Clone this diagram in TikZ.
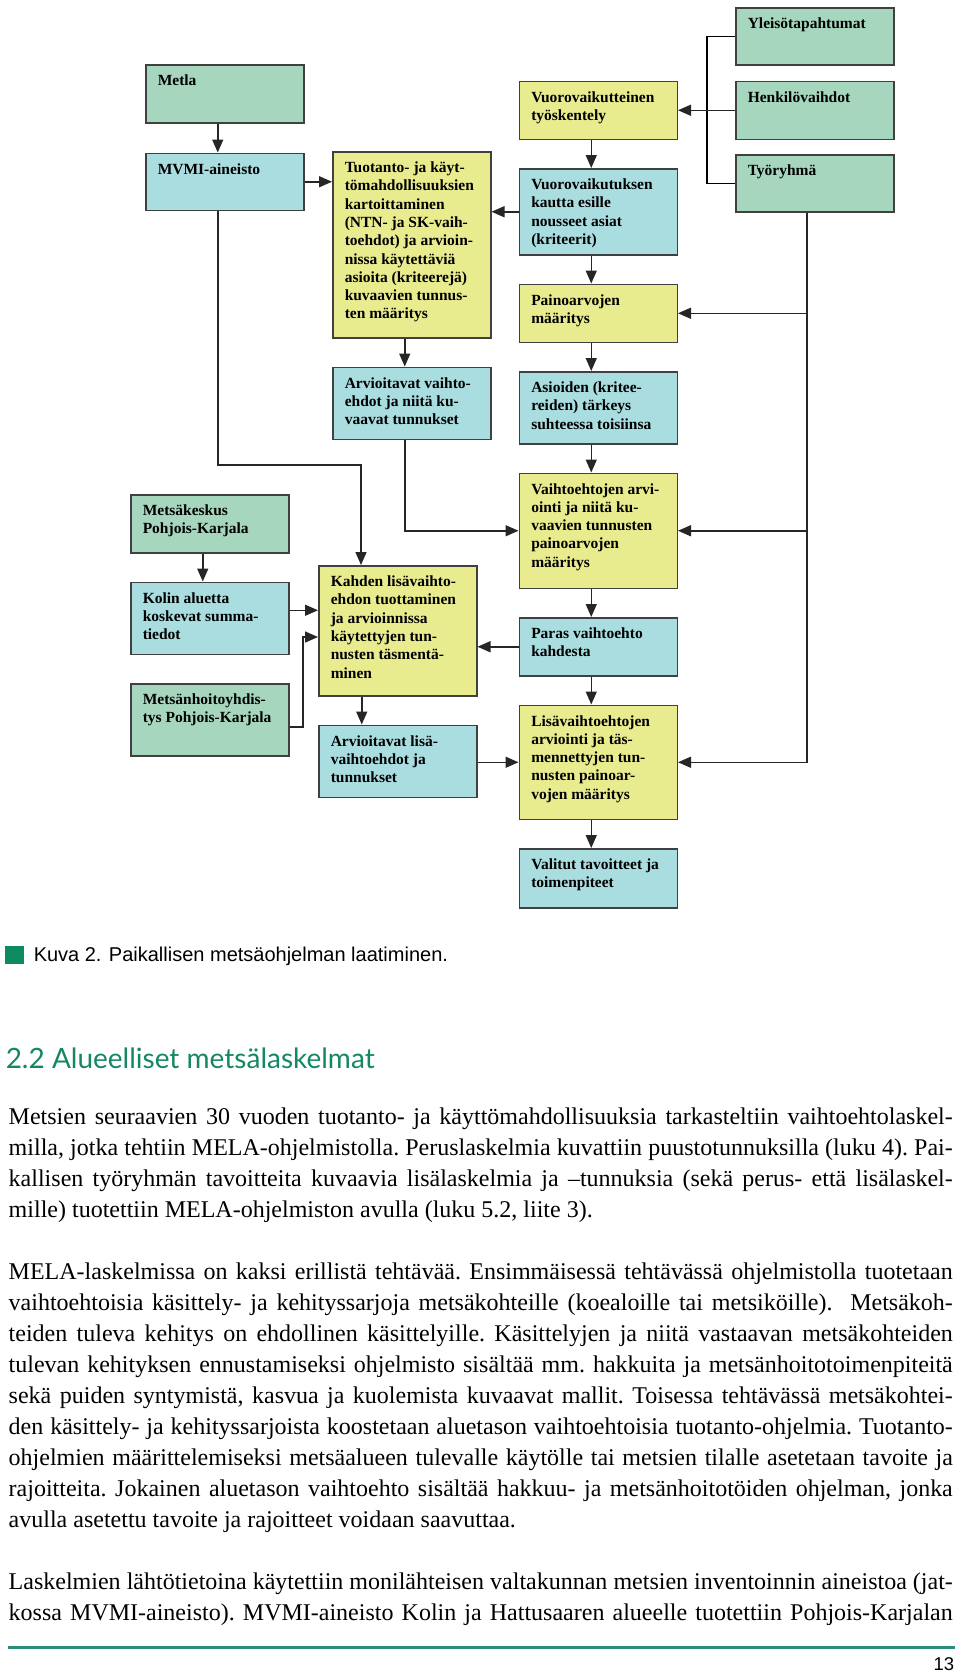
\documentclass[tikz,border=0pt]{standalone}
\usepackage{fontspec}
\setmainfont{Liberation Serif}
\newfontfamily\capfont{Liberation Sans}
\newfontfamily\headfont{Lato}
\usepackage{tikz}
\usetikzlibrary{arrows.meta}
\usetikzlibrary{positioning}
\definecolor{boxgreen}{HTML}{A6D7BE}
\definecolor{boxcyan}{HTML}{AADDE0}
\definecolor{boxyellow}{HTML}{E8EC8F}
\definecolor{figgreen}{HTML}{0E8A60}
\definecolor{headgreen}{HTML}{148764}
\definecolor{rulegreen}{HTML}{2A8C7D}
\newcommand{\bx}[2]{\parbox[c][#1][t]{134pt}{\raggedright\strut #2}}
\newcommand{\fullline}[1]{\makebox[944pt][s]{#1}}

\begin{document}
\begin{tikzpicture}[x=1pt,y=-1pt,node distance=28pt,line width=1.5pt,>={Triangle[length=13pt,width=11pt]}]
	\tikzstyle{box}=[rectangle,draw=black!75,inner xsep=12pt,inner ysep=8pt,font=\fontsize{15.5}{18.3}\selectfont\bfseries]
	\tikzstyle{grn}=[box,fill=boxgreen]
	\tikzstyle{cyn}=[box,fill=boxcyan]
	\tikzstyle{ylw}=[box,fill=boxyellow]
	\tikzstyle{arr}=[->,draw=black!85]
	\useasboundingbox (0,0) rectangle (960,1674);

	% oikea sarake
	\node[grn,anchor=north west] (yleiso) at (735,7) {\bx{41pt}{Yleisötapahtumat}};
	\node[grn] (henk) [below=15pt of yleiso] {\bx{42pt}{Henkilövaihdot}};
	\node[grn] (tyor) [below=14pt of henk] {\bx{41pt}{Työryhmä}};

	% keskisarake
	\node[ylw] (vuor) [left=57pt of henk] {\bx{42pt}{Vuorovaikutteinen\\ työskentely}};
	\node[cyn] (vkaut) [below=of vuor] {\bx{70pt}{Vuorovaikutuksen\\ kautta esille\\ nousseet asiat\\ (kriteerit)}};
	\node[ylw] (paino) [below=of vkaut] {\bx{42pt}{Painoarvojen\\ määritys}};
	\node[cyn] (asiat) [below=of paino] {\bx{56pt}{Asioiden (kritee-\\ reiden) tärkeys\\ suhteessa toisiinsa}};
	\node[ylw] (varv) [below=of asiat] {\bx{99pt}{Vaihtoehtojen arvi-\\ ointi ja niitä ku-\\ vaavien tunnusten\\ painoarvojen\\ määritys}};
	\node[cyn] (paras) [below=of varv] {\bx{42pt}{Paras vaihtoehto\\ kahdesta}};
	\node[ylw] (lisa) [below=of paras] {\bx{98pt}{Lisävaihtoehtojen\\ arviointi ja täs-\\ mennettyjen tun-\\ nusten painoar-\\ vojen määritys}};
	\node[cyn] (valit) [below=of lisa] {\bx{43pt}{Valitut tavoitteet ja\\ toimenpiteet}};

	% vasen yläosa
	\node[grn,anchor=north west] (metla) at (145,64) {\bx{42pt}{Metla}};
	\node[cyn] (mvmi) [below=29pt of metla] {\bx{41pt}{MVMI-aineisto}};
	\node[ylw,anchor=north west] (tuot) at (332,151) {\bx{170pt}{Tuotanto- ja käyt-\\ tömahdollisuuksien\\ kartoittaminen\\ (NTN- ja SK-vaih-\\ toehdot) ja arvioin-\\ nissa käytettäviä\\ asioita (kriteerejä)\\ kuvaavien tunnus-\\ ten määritys}};
	\node[cyn] (arv1) [below=of tuot] {\bx{56pt}{Arvioitavat vaihto-\\ ehdot ja niitä ku-\\ vaavat tunnukset}};

	% vasen alaosa
	\node[grn,anchor=north west] (mkesk) at (130,494) {\bx{42pt}{Metsäkeskus\\ Pohjois-Karjala}};
	\node[cyn] (kolin) [below=of mkesk] {\bx{56pt}{Kolin aluetta\\ koskevat summa-\\ tiedot}};
	\node[grn] (mhy) [below=of kolin] {\bx{56pt}{Metsänhoitoyhdis-\\ tys Pohjois-Karjala}};
	\node[ylw,anchor=north west] (kahden) at (318,565) {\bx{114pt}{Kahden lisävaihto-\\ ehdon tuottaminen\\ ja arvioinnissa\\ käytettyjen tun-\\ nusten täsmentä-\\ minen}};
	\node[cyn] (arv2) [below=of kahden] {\bx{56pt}{Arvioitavat lisä-\\ vaihtoehdot ja\\ tunnukset}};

	\coordinate (brk) at ([xshift=-28pt]henk.west);
	\coordinate (ty) at ([xshift=-8pt]tyor.south);
	\coordinate (mk) at (361,465);
	\coordinate (mj) at (303,637);

	\foreach \a/\b in {metla/mvmi,tuot/arv1,vuor/vkaut,vkaut/paino,paino/asiat,asiat/varv,varv/paras,paras/lisa,lisa/valit,mkesk/kolin}{
		\draw[arr] ([xshift=-7pt]\a.south) -- ([xshift=-7pt]\b.north);
	}
	\draw (yleiso.west) -| (brk) |- (tyor.west);
	\draw[arr] (henk.west) -- (vuor.east);
	\draw[arr] (ty) |- (lisa.east);
	\draw[arr] (ty |- paino.east) -- (paino.east);
	\draw[arr] (ty |- varv.east) -- (varv.east);
	\draw[arr] (mvmi.east) -- (mvmi.east -| tuot.west);
	\draw[arr] (vkaut.west) -- (vkaut.west -| tuot.east);
	\draw[arr] ([xshift=-7pt]arv1.south) |- (varv.west);
	\draw[arr] ([xshift=-7pt]mvmi.south) |- (mk) -- (mk |- kahden.north);
	\draw[arr] ([yshift=8pt]kolin.east) -- ([yshift=8pt]kolin.east -| kahden.west);
	\draw[arr] ([yshift=-7pt]mhy.east) -| (mj) -- (mj -| kahden.west);
	\draw[arr] (paras.west) -- (paras.west -| kahden.east);
	\draw[arr] ([xshift=-36pt]kahden.south) -- ([xshift=-36pt]arv2.north);
	\draw[arr] (arv2.east |- lisa.west) -- (lisa.west);

	% kuvateksti ja leipäteksti
	\fill[figgreen] (5,946) rectangle (24,964);
	\node[anchor=base west,inner sep=0pt,font=\capfont\fontsize{20}{24}\selectfont] (kuva) at (33,961) {Kuva 2. Paikallisen metsäohjelman laatiminen.};
	\node[anchor=base west,inner sep=0pt,text=headgreen,font=\headfont\fontsize{28}{34}\selectfont] (otsikko) at (5,1068) {2.2 Alueelliset metsälaskelmat};
	\node[anchor=base west,inner sep=0pt,font=\fontsize{24}{31}\selectfont] (teksti) at (8,1124) {\parbox[t]{944pt}{\frenchspacing
		\fullline{Metsien seuraavien 30 vuoden tuotanto- ja käyttömahdollisuuksia tarkasteltiin vaihtoehtolaskel-}\\
		\fullline{milla, jotka tehtiin MELA-ohjelmistolla. Peruslaskelmia kuvattiin puustotunnuksilla (luku 4). Pai-}\\
		\fullline{kallisen työryhmän tavoitteita kuvaavia lisälaskelmia ja –tunnuksia (sekä perus- että lisälaskel-}\\
		mille) tuotettiin MELA-ohjelmiston avulla (luku 5.2, liite 3).\\[31pt]
		\fullline{MELA-laskelmissa on kaksi erillistä tehtävää. Ensimmäisessä tehtävässä ohjelmistolla tuotetaan}\\
		\fullline{vaihtoehtoisia käsittely- ja kehityssarjoja metsäkohteille (koealoille tai metsiköille).\ \ Metsäkoh-}\\
		\fullline{teiden tuleva kehitys on ehdollinen käsittelyille. Käsittelyjen ja niitä vastaavan metsäkohteiden}\\
		\fullline{tulevan kehityksen ennustamiseksi ohjelmisto sisältää mm. hakkuita ja metsänhoitotoimenpiteitä}\\
		\fullline{sekä puiden syntymistä, kasvua ja kuolemista kuvaavat mallit. Toisessa tehtävässä metsäkohtei-}\\
		\fullline{den käsittely- ja kehityssarjoista koostetaan aluetason vaihtoehtoisia tuotanto-ohjelmia. Tuotanto-}\\
		\fullline{ohjelmien määrittelemiseksi metsäalueen tulevalle käytölle tai metsien tilalle asetetaan tavoite ja}\\
		\fullline{rajoitteita. Jokainen aluetason vaihtoehto sisältää hakkuu- ja metsänhoitotöiden ohjelman, jonka}\\
		avulla asetettu tavoite ja rajoitteet voidaan saavuttaa.\\[31pt]
		\fullline{Laskelmien lähtötietoina käytettiin monilähteisen valtakunnan metsien inventoinnin aineistoa (jat-}\\
		\fullline{kossa MVMI-aineisto). MVMI-aineisto Kolin ja Hattusaaren alueelle tuotettiin Pohjois-Karjalan}}};
	\draw[rulegreen,line width=3pt] (8,1647) -- (955,1647);
	\node[anchor=base east,inner sep=0pt,font=\capfont\fontsize{18.5}{22}\selectfont] (sivu) at (955,1670) {13};
\end{tikzpicture}
\end{document}
